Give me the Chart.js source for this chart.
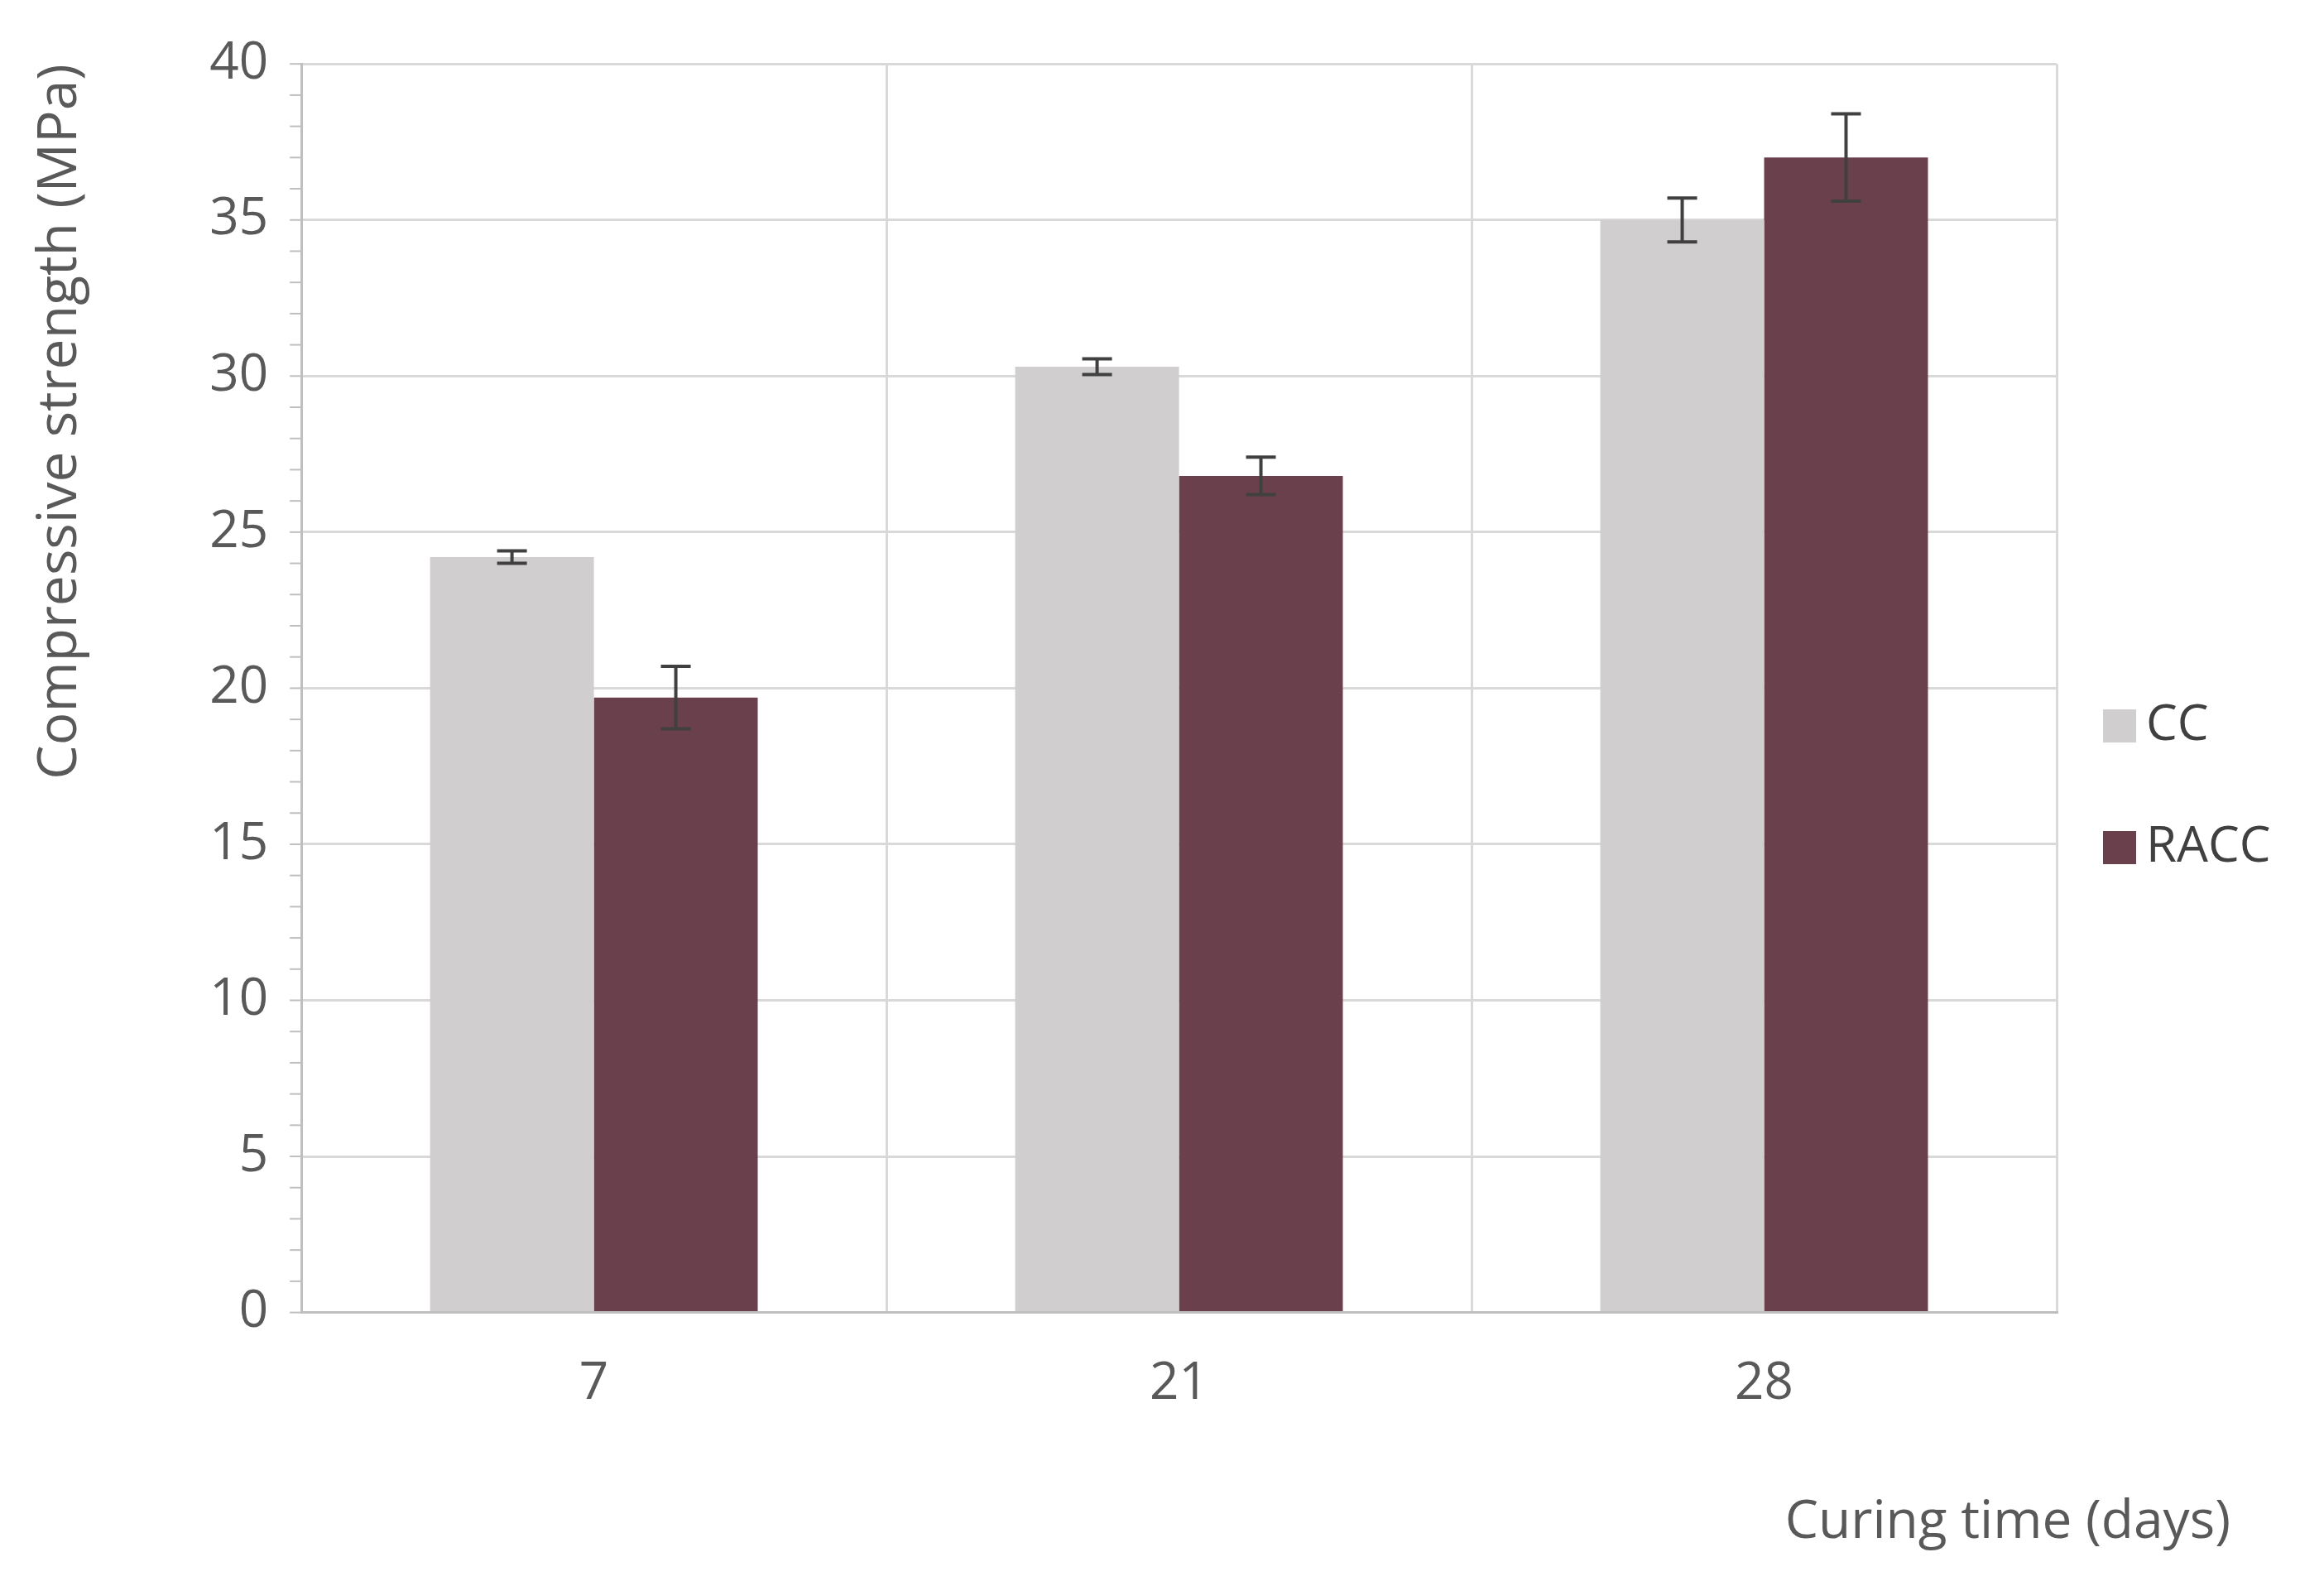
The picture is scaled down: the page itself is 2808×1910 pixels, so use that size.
<!DOCTYPE html>
<html>
<head>
<meta charset="utf-8">
<script src="https://cdn.jsdelivr.net/npm/chart.js@4"></script>
<style>
  html, body { margin: 0; padding: 0; background: #fff; }
  #wrap { width: 2808px; height: 1910px; }
</style>
</head>
<body>
<div id="wrap"><canvas id="chart"></canvas></div>
<script>
// data
const categories = ['7', '21', '28'];
const seriesNames = ['CC', 'RACC'];
const ccValues = [24.2, 30.3, 35.0];
const raccValues = [19.7, 26.8, 37.0];
const ccErrors = [0.2, 0.25, 0.7];
const raccErrors = [1.0, 0.6, 1.4];
const yTicks = [0, 5, 10, 15, 20, 25, 30, 35, 40];

const textColor = '#595959';
const gridColor = '#d9d9d9';
const font = 'Open Sans';

// error bars, minor ticks, legend, x title
const extras = {
  id: 'extras',
  afterDatasetsDraw(chart) {
    const ctx = chart.ctx;
    const y = chart.scales.y;
    const errs = [ccErrors, raccErrors];
    ctx.save();
    ctx.strokeStyle = '#404040';
    ctx.lineWidth = 4;
    chart.data.datasets.forEach((ds, di) => {
      chart.getDatasetMeta(di).data.forEach((bar, i) => {
        const v = ds.data[i], e = errs[di][i];
        const top = y.getPixelForValue(v + e), bot = y.getPixelForValue(v - e);
        ctx.beginPath();
        ctx.moveTo(bar.x, top); ctx.lineTo(bar.x, bot);
        ctx.moveTo(bar.x - 18, top); ctx.lineTo(bar.x + 18, top);
        ctx.moveTo(bar.x - 18, bot); ctx.lineTo(bar.x + 18, bot);
        ctx.stroke();
      });
    });
    // minor tick marks on the y axis
    ctx.strokeStyle = '#bfbfbf';
    ctx.lineWidth = 2;
    for (let v = 0; v <= 40; v++) {
      const py = y.getPixelForValue(v);
      ctx.beginPath();
      ctx.moveTo(y.right - 14, py); ctx.lineTo(y.right, py);
      ctx.stroke();
    }
    // legend
    const area = chart.chartArea;
    const colors = chart.data.datasets.map(d => d.backgroundColor);
    ctx.font = '60px "' + font + '"';
    ctx.textBaseline = 'middle';
    [877, 1024].forEach((ly, i) => {
      ctx.fillStyle = colors[i];
      ctx.fillRect(area.right + 56, ly - 20, 40, 40);
      ctx.fillStyle = '#404040';
      ctx.fillText(seriesNames[i], area.right + 108, ly);
    });
    // x axis title, hanging past the plot's right edge
    ctx.fillStyle = textColor;
    ctx.font = '64px "' + font + '"';
    ctx.textAlign = 'right';
    ctx.fillText('Curing time (days)', area.right + 210, 1840);
    ctx.restore();
  }
};

new Chart(document.getElementById('chart'), {
  type: 'bar',
  data: {
    labels: categories,
    datasets: [
      { label: seriesNames[0], data: ccValues, backgroundColor: '#d0cece' },
      { label: seriesNames[1], data: raccValues, backgroundColor: '#6b404d' }
    ]
  },
  options: {
    responsive: true,
    maintainAspectRatio: false,
    animation: false,
    layout: { padding: { top: 62, right: 323, bottom: 150, left: 30 } },
    datasets: { bar: { categoryPercentage: 0.56, barPercentage: 1.0 } },
    plugins: { legend: { display: false }, tooltip: { enabled: false } },
    scales: {
      x: {
        grid: { color: gridColor, lineWidth: 3, offset: true, drawTicks: false },
        border: { color: '#bfbfbf', width: 3 },
        ticks: { color: textColor, font: { family: font, size: 62 }, padding: 50 }
      },
      y: {
        min: 0, max: 40,
        afterBuildTicks: (s) => { s.ticks = yTicks.map(v => ({ value: v })); },
        grid: { color: gridColor, lineWidth: 3, drawTicks: false },
        border: { color: '#bfbfbf', width: 3 },
        ticks: { color: textColor, font: { family: font, size: 62 }, padding: 40 },
        title: {
          display: true, text: 'Compressive strength (MPa)', align: 'end',
          color: textColor, font: { family: font, size: 66 }, padding: { bottom: 100 }
        }
      }
    }
  },
  plugins: [extras]
});
</script>
</body>
</html>
